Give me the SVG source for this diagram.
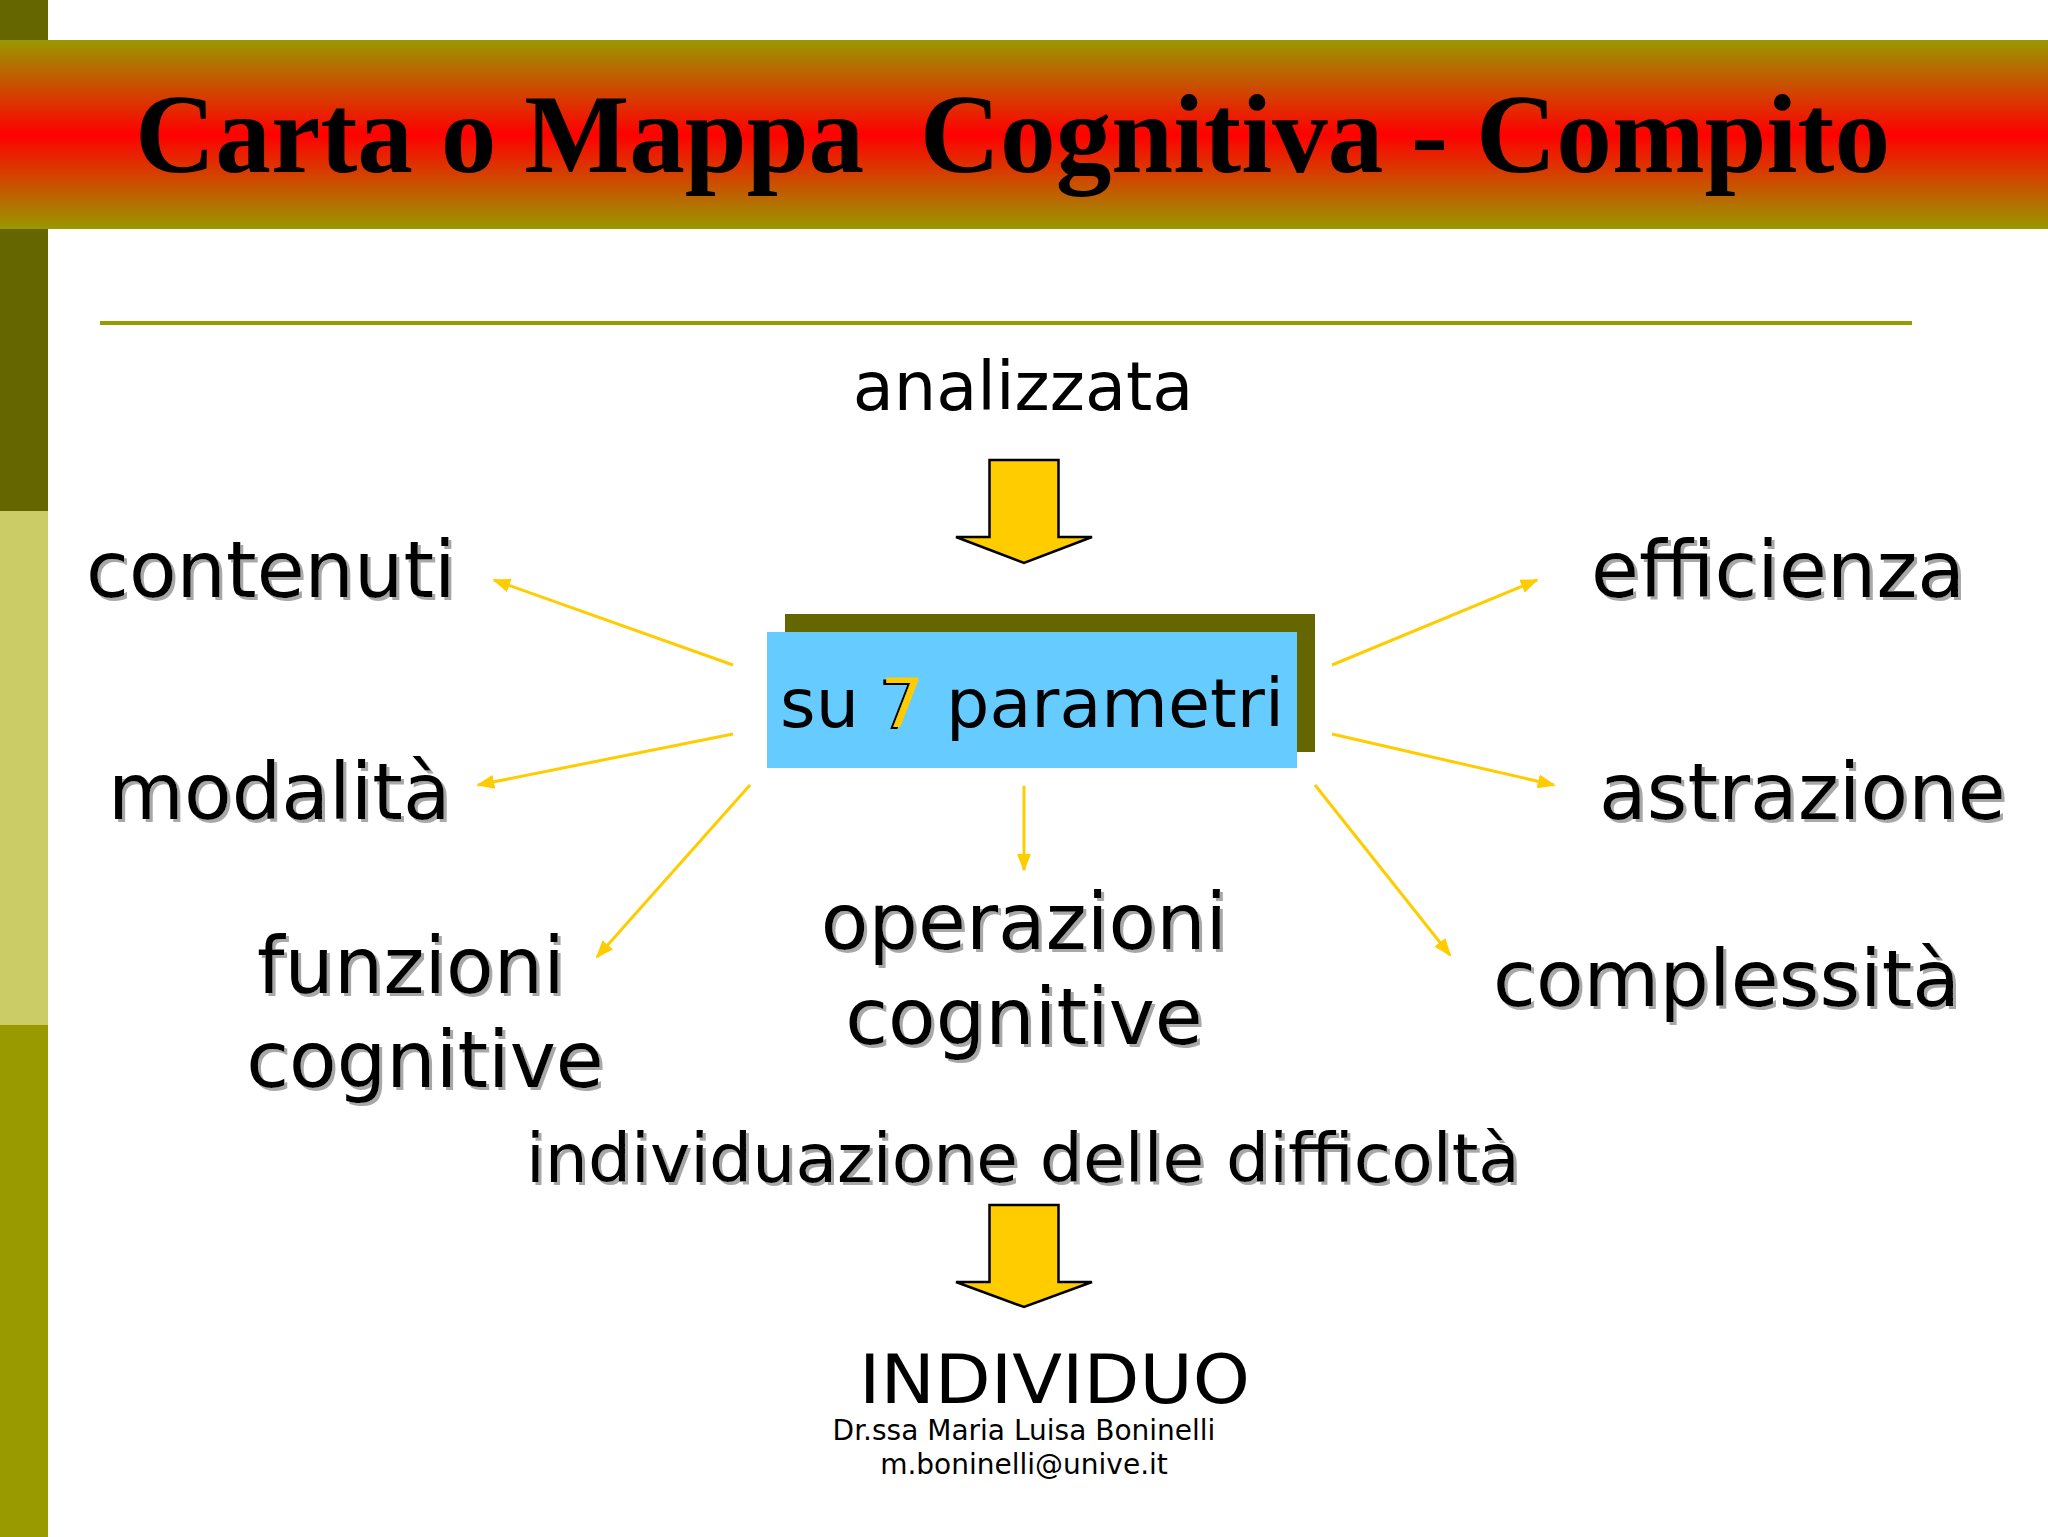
<svg xmlns="http://www.w3.org/2000/svg" width="2048" height="1537" viewBox="0 0 2048 1537">
<defs>
<style>
.lbl{font-family:"DejaVu Sans","Verdana",sans-serif;fill:#000;}
.big{font-size:78px;}
.mid{font-size:68px;}
.sh{filter:url(#shadow);}
.conn{stroke:#FFCC00;stroke-width:3;fill:none;marker-end:url(#ah);}
.barrow{fill:#FFCC00;stroke:#000;stroke-width:2.5;stroke-linejoin:miter;}
</style>
<linearGradient id="band" x1="0" y1="0" x2="0" y2="1">
<stop offset="0" stop-color="#999900"/>
<stop offset="0.5" stop-color="#FF0000"/>
<stop offset="1" stop-color="#999900"/>
</linearGradient>
<filter id="shadow" x="-5%" y="-20%" width="115%" height="150%">
<feDropShadow dx="3" dy="3" stdDeviation="0.6" flood-color="#A8A8A8" flood-opacity="1"/>
</filter>
<filter id="shadow7" x="-30%" y="-20%" width="160%" height="150%">
<feDropShadow dx="-3" dy="2" stdDeviation="0" flood-color="#000" flood-opacity="1"/>
</filter>
<marker id="ah" viewBox="0 0 10 10" refX="9" refY="5" markerWidth="18" markerHeight="14" markerUnits="userSpaceOnUse" orient="auto" preserveAspectRatio="none">
<path d="M0,0 L10,5 L0,10 z" fill="#FFCC00"/>
</marker>
</defs>
<rect x="0" y="0" width="2048" height="1537" fill="#FFFFFF"/>
<g id="leftbar">
<rect x="0" y="0" width="48" height="40" fill="#666600"/>
<rect x="0" y="229" width="48" height="282" fill="#666600"/>
<rect x="0" y="511" width="48" height="514" fill="#CCCC66"/>
<rect x="0" y="1025" width="48" height="512" fill="#999900"/>
</g>
<g id="title">
<rect x="0" y="40" width="2048" height="189" fill="url(#band)"/>
<text x="135" y="172" xml:space="preserve" textLength="1755" lengthAdjust="spacingAndGlyphs" style="font-family:'Liberation Serif','Times New Roman',serif;font-weight:bold;font-size:112px;fill:#000;white-space:pre;">Carta o Mappa  Cognitiva - Compito</text>
</g>
<rect x="100" y="321" width="1812" height="4" fill="#999900"/>
<g id="connectors">
<line class="conn" x1="733" y1="665" x2="494" y2="580"/>
<line class="conn" x1="733" y1="734" x2="478" y2="785"/>
<line class="conn" x1="750" y1="785" x2="597" y2="957"/>
<line class="conn" x1="1024" y1="786" x2="1024" y2="870"/>
<line class="conn" x1="1332" y1="665" x2="1537" y2="580"/>
<line class="conn" x1="1332" y1="734" x2="1554" y2="785"/>
<line class="conn" x1="1315" y1="785" x2="1450" y2="955"/>
<path id="arrow-top" class="barrow" d="M989.5,460 L1058.5,460 L1058.5,537 L1092,537 L1024,563 L956,537 L989.5,537 Z"/>
<path id="arrow-bottom" class="barrow" d="M989.5,1205 L1058.5,1205 L1058.5,1282 L1092,1282 L1024,1307 L956,1282 L989.5,1282 Z"/>
</g>
<g id="node-analizzata">
<text class="lbl" x="1023" y="410" text-anchor="middle" style="font-size:67px;">analizzata</text>
</g>
<g id="node-center">
<rect x="785" y="614" width="530" height="138" fill="#666600"/>
<rect x="767" y="632" width="530" height="136" fill="#66CCFF"/>
<text class="lbl" x="780" y="727" textLength="504" lengthAdjust="spacingAndGlyphs" style="font-size:67px;">su <tspan fill="#FFCC00" style="filter:url(#shadow7)">7</tspan> parametri</text>
</g>
<g id="node-contenuti"><text class="lbl big sh" x="86" y="597">contenuti</text></g>
<g id="node-modalita"><text class="lbl big sh" x="108" y="819">modalità</text></g>
<g id="node-funzioni">
<text class="lbl big sh" x="411" y="993" text-anchor="middle">funzioni</text>
<text class="lbl big sh" x="425" y="1087" text-anchor="middle">cognitive</text>
</g>
<g id="node-operazioni">
<text class="lbl big sh" x="1024" y="949" text-anchor="middle">operazioni</text>
<text class="lbl big sh" x="1024" y="1044" text-anchor="middle">cognitive</text>
</g>
<g id="node-efficienza"><text class="lbl big sh" x="1591" y="597">efficienza</text></g>
<g id="node-astrazione"><text class="lbl big sh" x="1599" y="819">astrazione</text></g>
<g id="node-complessita"><text class="lbl big sh" x="1493" y="1006">complessità</text></g>
<g id="node-difficolta"><text class="lbl mid sh" x="1023" y="1182" text-anchor="middle">individuazione delle difficoltà</text></g>
<g id="node-individuo">
<text class="lbl" x="859" y="1403" textLength="391" lengthAdjust="spacingAndGlyphs" style="font-size:68px;">INDIVIDUO</text>
<text class="lbl" x="1024" y="1440" text-anchor="middle" style="font-size:28px;">Dr.ssa Maria Luisa Boninelli</text>
<text class="lbl" x="1024" y="1474" text-anchor="middle" style="font-size:28px;">m.boninelli@unive.it</text>
</g>
</svg>
